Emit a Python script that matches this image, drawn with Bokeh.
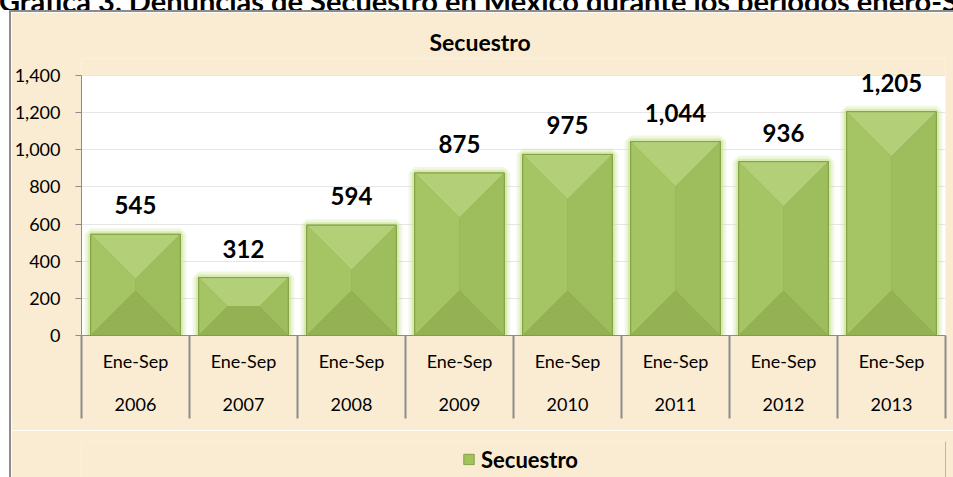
import numpy as np
from bokeh.plotting import figure
from bokeh.layouts import column, row
from bokeh.models import (Range1d, LinearAxis, FixedTicker, NumeralTickFormatter, Grid,
                          ColumnDataSource, LabelSet, Legend, LegendItem, Div, Spacer)
from bokeh.core.properties import value
from bokeh.embed import file_html
from bokeh.resources import INLINE

# ---- data ----
years = ["2006", "2007", "2008", "2009", "2010", "2011", "2012", "2013"]
periods = ["Ene-Sep", "Ene-Sep", "Ene-Sep", "Ene-Sep", "Ene-Sep", "Ene-Sep", "Ene-Sep", "Ene-Sep"]
secuestro = [545, 312, 594, 875, 975, 1044, 936, 1205]
y_ticks = [0, 200, 400, 600, 800, 1000, 1200, 1400]
chart_title = "Secuestro"
series_name = "Secuestro"
caption = "Gráfica 3. Denuncias de Secuestro en México durante los periodos enero-Septiembre 2006-2013"

# ---- layout ----
W, H = 942, 418
LEG_H = 465 - H
FL, FR, FT, FB = 70, 8, 46, 95
PLOT_H = 260                      # pixel height of the 0..1400 plot area
frame_w = W - FL - FR
frame_h = H - FT - FB
YMAX = y_ticks[-1]
YTOP = YMAX * frame_h / PLOT_H
n = len(years)
px_x = frame_w / n
px_y = frame_h / YTOP
BAR_W = 0.83
FONT = "Lato"
BG = "#F9ECD3"
GRAY = "#8C8C8C"
BAR_FILL = "#A2C25E"

xc = np.arange(n) + 0.5
vals = np.array(secuestro, dtype=float)

fig = figure(width=W, height=H, x_range=Range1d(0, n), y_range=Range1d(0, YTOP),
             x_axis_type=None, y_axis_type=None, toolbar_location=None,
             output_backend="svg", min_border_left=FL, min_border_right=FR,
             min_border_top=FT, min_border_bottom=FB,
             background_fill_color=BG, border_fill_color=BG,
             outline_line_color=None, title=chart_title)

fig.title.align = "left"
fig.title.offset = 348
fig.title.text_font = FONT
fig.title.text_font_size = "23px"
fig.title.text_font_style = "bold"
fig.title.text_color = "black"
fig.title.standoff = 6

# white plot area
fig.quad(left=[0], right=[n], bottom=[0], top=[YMAX], fill_color="white",
         line_color=None, level="image")

# y axis
yaxis = LinearAxis(ticker=FixedTicker(ticks=y_ticks, minor_ticks=[]),
                   formatter=NumeralTickFormatter(format="0,0"), bounds=(0, YMAX))
yaxis.axis_line_color = GRAY
yaxis.major_tick_line_color = GRAY
yaxis.major_tick_out = 6
yaxis.major_tick_in = 0
yaxis.minor_tick_line_color = None
yaxis.major_label_standoff = 15
yaxis.major_label_text_font = FONT
yaxis.major_label_text_font_size = "18px"
yaxis.major_label_text_color = "black"
fig.add_layout(yaxis, "left")

grid = Grid(dimension=1, ticker=yaxis.ticker, grid_line_color="#E6E6E6")
fig.add_layout(grid)

# x axes: two rows of category labels, separators via long minor ticks
ax1 = LinearAxis(ticker=FixedTicker(ticks=list(xc), minor_ticks=list(range(n + 1))),
                 major_label_overrides={float(v): t for v, t in zip(xc, periods)})
ax1.axis_line_color = GRAY
ax1.major_tick_line_color = None
ax1.major_tick_out = 0
ax1.major_tick_in = 0
ax1.minor_tick_line_color = GRAY
ax1.minor_tick_line_width = 2
ax1.minor_tick_out = 83
ax1.minor_tick_in = 0
ax1.major_label_standoff = -69
ax1.major_label_text_font = FONT
ax1.major_label_text_font_size = "18px"
ax1.major_label_text_color = "black"
fig.add_layout(ax1, "below")

ax2 = LinearAxis(ticker=FixedTicker(ticks=list(xc), minor_ticks=[]),
                 major_label_overrides={float(v): t for v, t in zip(xc, years)})
ax2.axis_line_color = None
ax2.major_tick_line_color = None
ax2.minor_tick_line_color = None
ax2.major_tick_out = 0
ax2.major_tick_in = 0
ax2.major_label_standoff = 23
ax2.major_label_text_font = FONT
ax2.major_label_text_font_size = "18px"
ax2.major_label_text_color = "black"
fig.add_layout(ax2, "below")

# glow
fig.vbar(x=xc, top=vals, width=BAR_W, fill_color=None, line_color="#C9E396",
         line_width=12, line_alpha=0.3)
fig.vbar(x=xc, top=vals, width=BAR_W, fill_color=None, line_color="#C9E396",
         line_width=6, line_alpha=0.6)

# base bars
fig.vbar(x=xc, top=vals, width=BAR_W, fill_color=BAR_FILL, line_color="#83A143")

# bevel faces
top_xs, top_ys, bot_xs, bot_ys, lft_xs, lft_ys, rgt_xs, rgt_ys = ([] for _ in range(8))
for cx, h in zip(xc, vals):
    xl, xr = cx - BAR_W / 2, cx + BAR_W / 2
    s = min(BAR_W * px_x / 2, h * px_y / 2)
    dx, dy = s / px_x, s / px_y
    t1 = (xl + dx, h - dy); t2 = (xr - dx, h - dy)
    b1 = (xl + dx, dy); b2 = (xr - dx, dy)
    top_xs.append([xl, xr, t2[0], t1[0]]); top_ys.append([h, h, t2[1], t1[1]])
    bot_xs.append([xl, xr, b2[0], b1[0]]); bot_ys.append([0, 0, b2[1], b1[1]])
    lft_xs.append([xl, xl, t1[0], b1[0]]); lft_ys.append([0, h, t1[1], b1[1]])
    rgt_xs.append([xr, xr, t2[0], b2[0]]); rgt_ys.append([0, h, t2[1], b2[1]])

fig.patches(top_xs, top_ys, fill_color="#B3D078", line_color="#A9C76C", line_width=0.5)
fig.patches(lft_xs, lft_ys, fill_color="#A5C464", line_color="#9CBB5B", line_width=0.5)
fig.patches(rgt_xs, rgt_ys, fill_color="#9EBD5C", line_color="#96B555", line_width=0.5)
fig.patches(bot_xs, bot_ys, fill_color="#94B254", line_color="#8DAB4E", line_width=0.5)

fig.vbar(x=xc, top=vals, width=BAR_W, fill_color=None, line_color="#83A143", line_width=1)

# data labels
src = ColumnDataSource(dict(x=xc, y=vals, label=["{:,}".format(int(v)) for v in secuestro]))
labels = LabelSet(x="x", y="y", text="label", source=src, text_align="center",
                  text_baseline="alphabetic", y_offset=20, text_font=value(FONT),
                  text_font_style="bold", text_font_size="24px", text_color="black")
fig.add_layout(labels)

# legend strip (separate small figure under the chart)
leg_fig = figure(width=W, height=LEG_H, x_range=Range1d(0, 1), y_range=Range1d(0, 1),
                 x_axis_type=None, y_axis_type=None, toolbar_location=None,
                 output_backend="svg", min_border_left=FL, min_border_right=FR,
                 min_border_top=11, min_border_bottom=0,
                 background_fill_color=BG, border_fill_color=BG, outline_line_color=None)
leg_src = ColumnDataSource(dict(x=[n], top=[secuestro[0]]))
leg_r = leg_fig.vbar(x="x", top="top", width=0.1, source=leg_src,
                     fill_color=BAR_FILL, line_color="#83A143")
legend = Legend(items=[LegendItem(label=series_name, renderers=[leg_r])],
                location="left", orientation="horizontal",
                padding=0, margin=381, spacing=0, border_line_color=None,
                background_fill_alpha=0, glyph_width=13, glyph_height=13,
                label_standoff=6, label_text_font=FONT, label_text_font_size="22px",
                label_text_font_style="bold", label_text_color="black")
leg_fig.add_layout(legend)

# page frame: cut-off caption strip, gray chart border
head = Div(text=('<div style="margin-top:-17px; margin-left:-1px; font-family:Lato; '
                 'font-weight:bold; font-size:29px; line-height:27px; white-space:nowrap; '
                 'color:black;">' + caption + '</div>'),
           width=953, height=10, margin=0, styles={"overflow": "hidden"})
top_bar = row(Spacer(width=9, height=2, margin=0),
              Spacer(width=944, height=2, margin=0, styles={"background-color": GRAY}))
body = row(Spacer(width=9, height=H + LEG_H, margin=0),
           Spacer(width=2, height=H + LEG_H, margin=0, styles={"background-color": GRAY}),
           column(fig, leg_fig))
p = column(head, top_bar, body)

open("out.html", "w").write(file_html(p, INLINE))
